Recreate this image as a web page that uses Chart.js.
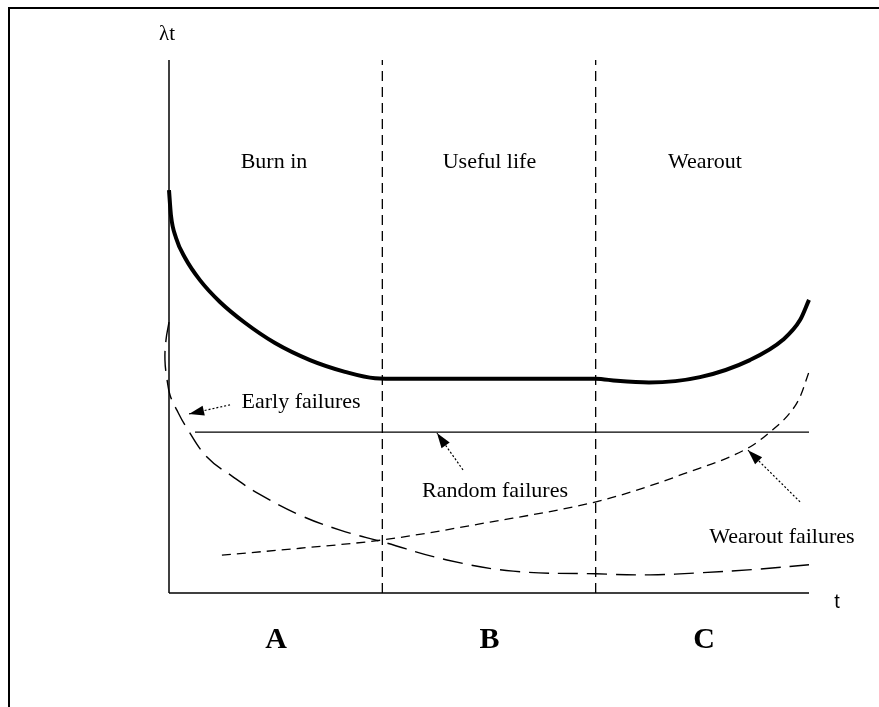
<!DOCTYPE html>
<html>
<head>
<meta charset="utf-8">
<script src="https://cdn.jsdelivr.net/npm/chart.js@4/dist/chart.umd.min.js"></script>
<style>
    html, body { margin: 0; padding: 0; background: #fff; }
    #wrap { position: relative; width: 879px; height: 707px; }
    #frame {
        position: absolute; left: 8px; top: 7px; right: 0; bottom: 0;
        border-top: 2px solid #000; border-left: 2px solid #000;
        pointer-events: none;
    }
</style>
</head>
<body>
<div id="wrap">
    <canvas id="bathtub"></canvas>
    <div id="frame"></div>
</div>
<script>
// time axis: 0..3 (three phases), hazard axis: 0..100
const phaseBounds = [1, 2];
const phaseNames = ['Burn in', 'Useful life', 'Wearout'];
const phaseLetters = ['A', 'B', 'C'];

const totalRate = [
    { x: 0, y: 75.6 }, { x: 0.009, y: 70.9 }, { x: 0.033, y: 66.6 }, { x: 0.075, y: 62.9 },
    { x: 0.145, y: 58.7 }, { x: 0.239, y: 54.6 }, { x: 0.356, y: 50.7 }, { x: 0.497, y: 46.9 },
    { x: 0.661, y: 43.7 }, { x: 0.825, y: 41.5 }, { x: 0.966, y: 40.3 }, { x: 1.083, y: 40.2 },
    { x: 1.5, y: 40.2 }, { x: 2.0, y: 40.2 }, { x: 2.1, y: 39.8 }, { x: 2.25, y: 39.5 },
    { x: 2.489, y: 40.5 }, { x: 2.723, y: 43.7 }, { x: 2.878, y: 47.5 }, { x: 2.958, y: 51.2 },
    { x: 3.0, y: 55.0 }
];

const earlyFailures = [
    { x: 0, y: 50.8 }, { x: -0.014, y: 47.5 }, { x: -0.019, y: 43.7 }, { x: -0.009, y: 40.0 },
    { x: 0.005, y: 37.1 }, { x: 0.037, y: 34.3 }, { x: 0.075, y: 31.5 }, { x: 0.178, y: 25.5 },
    { x: 0.3, y: 21.8 }, { x: 0.413, y: 18.8 }, { x: 0.614, y: 14.6 }, { x: 0.802, y: 11.8 },
    { x: 1.0, y: 9.6 }, { x: 1.303, y: 6.2 }, { x: 1.613, y: 4.1 }, { x: 2.0, y: 3.6 },
    { x: 2.255, y: 3.4 }, { x: 2.489, y: 3.8 }, { x: 2.77, y: 4.5 }, { x: 3.0, y: 5.3 }
];

const randomFailures = [{ x: 0.122, y: 30.2 }, { x: 3.0, y: 30.2 }];

const wearoutFailures = [
    { x: 0.248, y: 7.1 }, { x: 0.614, y: 8.4 }, { x: 0.989, y: 9.9 }, { x: 1.505, y: 13.3 },
    { x: 2.002, y: 17.1 }, { x: 2.208, y: 19.5 }, { x: 2.395, y: 22.1 }, { x: 2.723, y: 27.4 },
    { x: 2.817, y: 30.2 }, { x: 2.911, y: 33.8 }, { x: 2.958, y: 36.8 }, { x: 3.0, y: 41.5 }
];

// pointer arrows: tail -> tip
const arrowEarly = [{ x: 0.286, y: 35.3 }, { x: 0.094, y: 33.6 }];
const arrowRandom = [{ x: 1.378, y: 23.1 }, { x: 1.256, y: 30.0 }];
const arrowWearout = [{ x: 2.958, y: 17.1 }, { x: 2.714, y: 26.8 }];

const serif = '"Liberation Serif", "Times New Roman", serif';

const texts = [
    { text: 'λt', x: -0.009, y: 103.7, font: '21px ' + serif },
    { text: phaseNames[0], x: 0.492, y: 79.7, font: '22px ' + serif },
    { text: phaseNames[1], x: 1.502, y: 79.7, font: '22px ' + serif },
    { text: phaseNames[2], x: 2.512, y: 79.7, font: '22px ' + serif },
    { text: 'Early failures', x: 0.619, y: 34.7, font: '22px ' + serif },
    { text: 'Random failures', x: 1.528, y: 18.0, font: '22px ' + serif },
    { text: 'Wearout failures', x: 2.873, y: 9.4, font: '22px ' + serif },
    { text: 't', x: 3.131, y: -2.8, font: '20px "Liberation Sans", Arial, sans-serif' },
    { text: phaseLetters[0], x: 0.502, y: -10.3, font: 'bold 30px ' + serif },
    { text: phaseLetters[1], x: 1.502, y: -10.3, font: 'bold 30px ' + serif },
    { text: phaseLetters[2], x: 2.508, y: -10.3, font: 'bold 30px ' + serif }
];

const line = (data, extra) => Object.assign({
    data: data,
    showLine: true,
    borderColor: '#000',
    backgroundColor: '#000',
    borderWidth: 1.3,
    pointRadius: 0,
    fill: false
}, extra);

const datasets = [
    line([{ x: 0, y: 0 }, { x: 0, y: 100 }], { borderWidth: 1.5 }),
    line([{ x: 0, y: 0 }, { x: 3, y: 0 }], { borderWidth: 1.5 }),
    line([{ x: phaseBounds[0], y: 0 }, { x: phaseBounds[0], y: 100 }], { borderDash: [10, 6] }),
    line([{ x: phaseBounds[1], y: 0 }, { x: phaseBounds[1], y: 100 }], { borderDash: [10, 6] }),
    line(totalRate, { borderWidth: 4, cubicInterpolationMode: 'monotone' }),
    line(earlyFailures, { borderWidth: 1.4, borderDash: [20, 9], tension: 0.4 }),
    line(randomFailures, { borderWidth: 1.2 }),
    line(wearoutFailures, { borderWidth: 1.3, borderDash: [9, 6], cubicInterpolationMode: 'monotone' }),
    line(arrowEarly, { borderWidth: 1.2, borderDash: [2, 2], arrow: true }),
    line(arrowRandom, { borderWidth: 1.2, borderDash: [2, 2], arrow: true }),
    line(arrowWearout, { borderWidth: 1.2, borderDash: [2, 2], arrow: true })
];

const decorations = {
    id: 'decorations',
    afterDatasetsDraw(chart) {
        const { ctx, scales } = chart;
        ctx.save();
        ctx.fillStyle = '#000';
        // arrow heads at the tip of each pointer
        chart.data.datasets.forEach((ds, i) => {
            if (!ds.arrow) return;
            const pts = chart.getDatasetMeta(i).data;
            const a = pts[0], b = pts[pts.length - 1];
            const ang = Math.atan2(b.y - a.y, b.x - a.x);
            const len = 15, half = 5;
            ctx.beginPath();
            ctx.moveTo(b.x, b.y);
            ctx.lineTo(b.x - len * Math.cos(ang) + half * Math.sin(ang), b.y - len * Math.sin(ang) - half * Math.cos(ang));
            ctx.lineTo(b.x - len * Math.cos(ang) - half * Math.sin(ang), b.y - len * Math.sin(ang) + half * Math.cos(ang));
            ctx.closePath();
            ctx.fill();
        });
        ctx.textAlign = 'center';
        ctx.textBaseline = 'alphabetic';
        texts.forEach(t => {
            ctx.font = t.font;
            ctx.fillText(t.text, scales.x.getPixelForValue(t.x), scales.y.getPixelForValue(t.y));
        });
        ctx.restore();
    }
};

new Chart(document.getElementById('bathtub'), {
    type: 'scatter',
    data: { datasets: datasets },
    options: {
        responsive: true,
        maintainAspectRatio: false,
        animation: false,
        clip: false,
        layout: { padding: { left: 169, right: 70, top: 60, bottom: 114 } },
        scales: {
            x: { type: 'linear', min: 0, max: 3, display: false },
            y: { type: 'linear', min: 0, max: 100, display: false }
        },
        plugins: {
            legend: { display: false },
            tooltip: { enabled: false }
        }
    },
    plugins: [decorations]
});
</script>
</body>
</html>
